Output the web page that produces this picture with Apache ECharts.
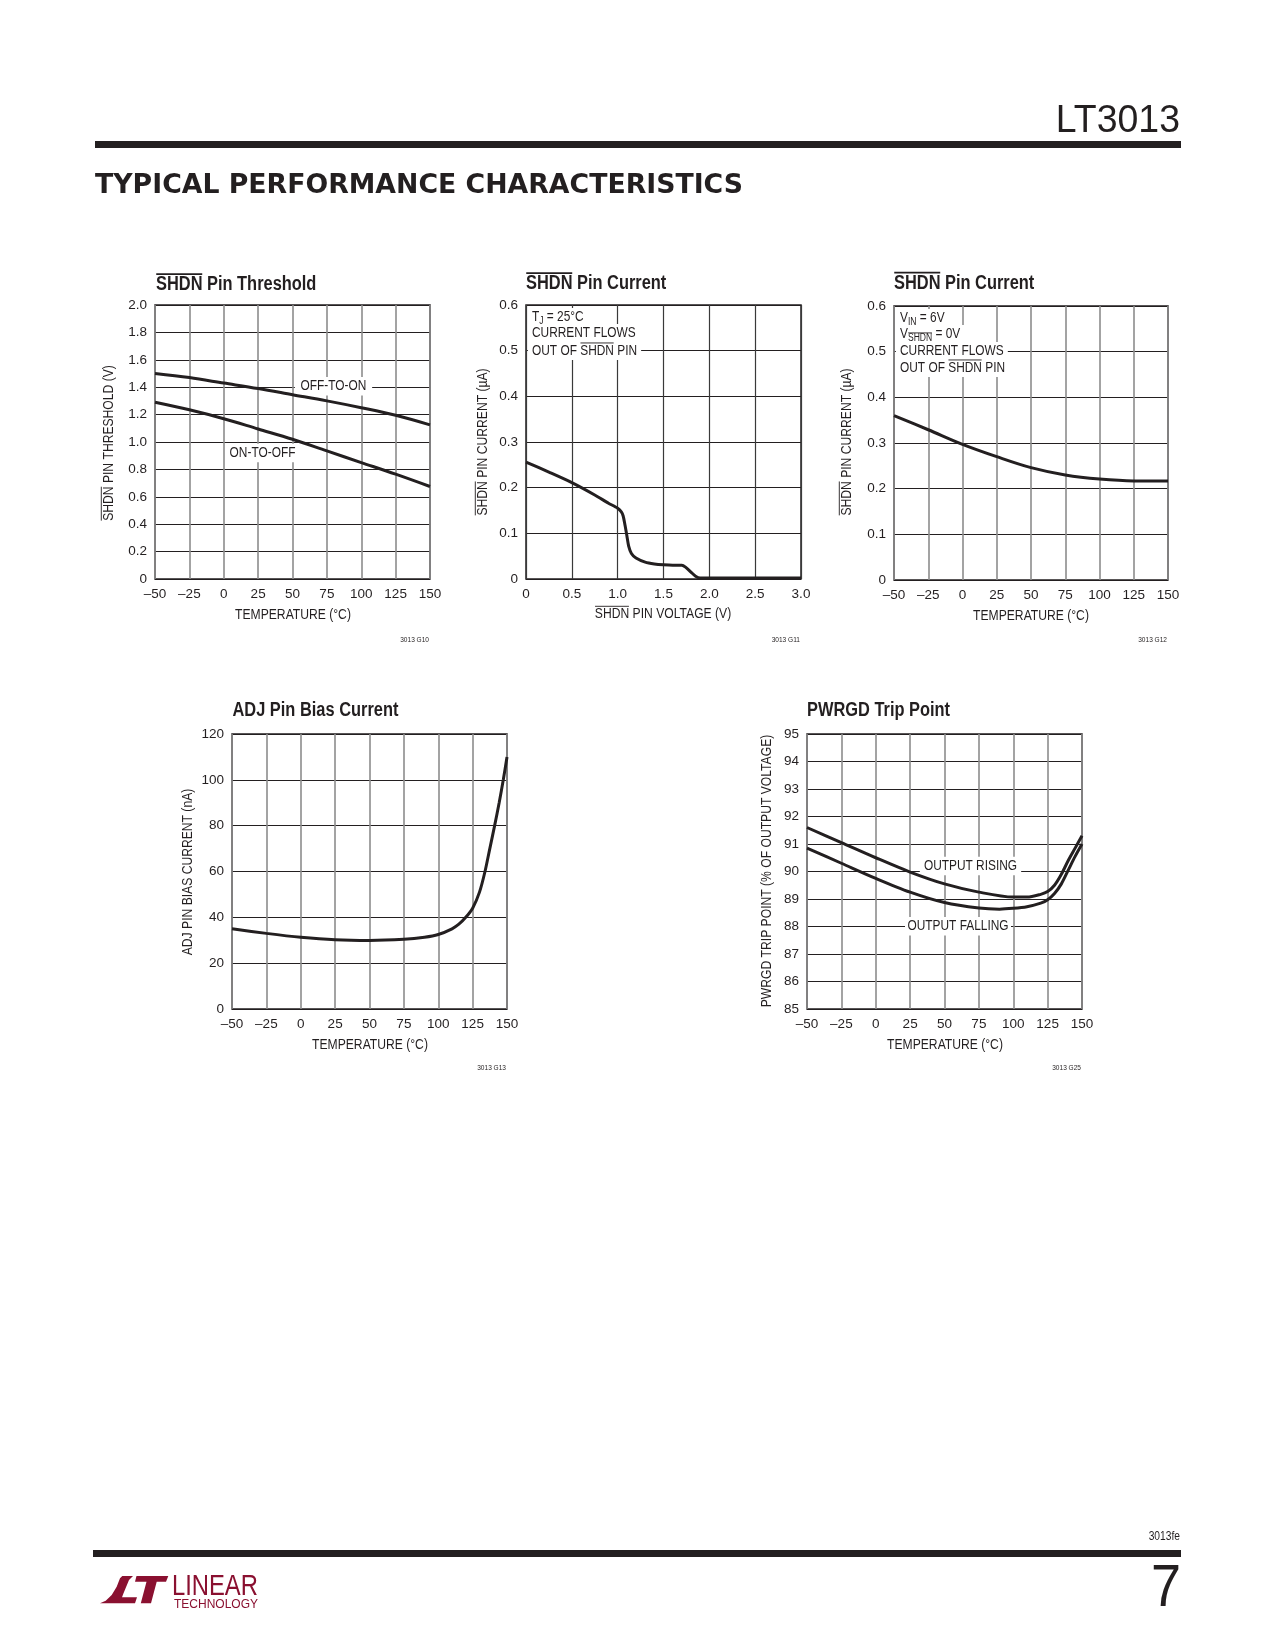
<!DOCTYPE html>
<html><head><meta charset="utf-8">
<script src="https://cdn.jsdelivr.net/npm/echarts@6/dist/echarts.min.js"></script>
<style>html,body{margin:0;padding:0;background:#fff}#c{width:1275px;height:1650px}</style>
</head><body><div id="c"></div>
<script>
// ---------- DATA ----------
// Chart 1: SHDN Pin Threshold vs temperature
const thrTemp      = [-50, -25, 0, 25, 50, 75, 100, 125, 150];
const thrOffToOn   = [1.50, 1.47, 1.43, 1.39, 1.345, 1.30, 1.25, 1.195, 1.125];
const thrOnToOff   = [1.29, 1.235, 1.17, 1.095, 1.02, 0.935, 0.85, 0.765, 0.675];
// Chart 2: SHDN Pin Current vs SHDN pin voltage
const shdnVolt     = [0, 0.25, 0.5, 0.75, 0.9, 1.0, 1.04, 1.06, 1.08, 1.1, 1.12, 1.15, 1.2, 1.3, 1.4, 1.5, 1.6, 1.7, 1.74, 1.8, 1.85, 1.9, 2.0, 2.5, 3.0];
const shdnCurV     = [0.256, 0.234, 0.211, 0.184, 0.166, 0.155, 0.147, 0.138, 0.118, 0.095, 0.072, 0.056, 0.046, 0.037, 0.033, 0.031, 0.030, 0.030, 0.026, 0.015, 0.006, 0.002, 0.002, 0.002, 0.002];
// Chart 3: SHDN Pin Current vs temperature
const shdnTemp     = [-50, -25, 0, 25, 50, 75, 100, 125, 150];
const shdnCurT     = [0.36, 0.329, 0.297, 0.27, 0.246, 0.23, 0.221, 0.217, 0.217];
// Chart 4: ADJ Pin Bias Current vs temperature
const adjTemp      = [-50, -25, 0, 25, 50, 75, 90, 100, 110, 115, 120, 125, 130, 134, 137.5, 141, 144.3, 147.3, 150];
const adjBias      = [35, 33, 31.3, 30.2, 29.9, 30.4, 31.3, 32.5, 35, 37, 40, 44, 51, 60, 70, 80, 90, 100, 110];
// Chart 5: PWRGD Trip Point vs temperature
const pgRiseTemp   = [-50, -25, 0, 25, 50, 75, 100, 110, 120, 125, 130, 135, 140, 145, 150];
const pgRising     = [91.6, 91.05, 90.5, 89.98, 89.55, 89.25, 89.07, 89.07, 89.17, 89.27, 89.5, 89.9, 90.4, 90.85, 91.3];
const pgFallTemp   = [-50, -25, 0, 25, 50, 75, 90, 100, 110, 120, 125, 130, 135, 140, 145, 150];
const pgFalling    = [90.85, 90.3, 89.75, 89.25, 88.87, 88.67, 88.63, 88.66, 88.72, 88.85, 88.97, 89.2, 89.55, 90.05, 90.55, 91.0];

// ---------- STYLE ----------
const FONT = '"Liberation Sans", Arial, sans-serif';
const NARROW = 0.82;          // horizontal squeeze to mimic a narrow face
const INK = '#231f20';
const GRAY = '#8c8c8c';
const LOGO = '#8a1030';
const ZG = 2;                 // graphics above grid lines, below curves
const cv = document.createElement('canvas').getContext('2d');
function tw(t, size, bold, fam) { cv.font = (bold ? 'bold ' : '') + size + 'px ' + (fam || FONT); return cv.measureText(t).width; }
function pairs(xs, ys) { return xs.map((x, i) => [x, ys[i]]); }

// text with optional overline / subscript parts
function mtext(parts, o) {
  const size = o.size, bold = !!o.bold, subSize = size * 0.72;
  let x = 0;
  const segs = parts.map(p => typeof p === 'string' ? { t: p } : Object.assign({}, p));
  segs.forEach(s => { s.sz = s.sub ? subSize : size; s.w = tw(s.t, s.sz, bold); s.x = x; x += s.w; });
  const total = x;
  const off = o.align === 'center' ? -total / 2 : (o.align === 'right' ? -total : 0);
  const ch = [];
  if (o.bg) {
    const p = o.pad == null ? 4 : o.pad;
    ch.push({ type: 'rect', z: ZG, shape: { x: off - p, y: -size * 0.62, width: total + 2 * p, height: size * 1.28 }, style: { fill: '#fff' } });
  }
  segs.forEach(s => {
    const dy = s.sub ? size * 0.3 : 0;
    ch.push({ type: 'text', z: ZG, x: off + s.x, y: dy, style: { text: s.t, fill: o.color || INK, fontSize: s.sz, fontFamily: FONT, fontWeight: bold ? 'bold' : 'normal', textAlign: 'left', textVerticalAlign: 'middle', align: 'left', verticalAlign: 'middle' } });
    if (s.ov) {
      const oy = dy - s.sz * 0.52;
      ch.push({ type: 'line', z: ZG, shape: { x1: off + s.x + 0.3, y1: oy, x2: off + s.x + s.w - 0.3, y2: oy }, style: { stroke: o.color || INK, lineWidth: bold ? 1.6 : 1 } });
    }
  });
  return { type: 'group', x: o.x, y: o.y, rotation: o.rot || 0, scaleX: o.sx || NARROW, scaleY: 1, z: ZG, children: ch };
}
function plain(text, o) {
  return { type: 'text', z: ZG, x: o.x, y: o.y, scaleX: o.sx || NARROW, scaleY: 1,
    style: { text: text, fill: o.color || INK, fontSize: o.size, fontFamily: o.fam || FONT, fontWeight: o.bold ? 'bold' : 'normal', textAlign: o.align || 'left', textVerticalAlign: 'middle', align: o.align || 'left', verticalAlign: 'middle' } };
}

// ---------- LAYOUT ----------
const grids = [
  { left: 155, top: 305, width: 275, height: 274 },
  { left: 526, top: 305, width: 275, height: 274 },
  { left: 894, top: 306, width: 274, height: 274 },
  { left: 232, top: 734, width: 275, height: 275 },
  { left: 807, top: 734, width: 275, height: 275 }
].map(g => Object.assign(g, { show: true, borderColor: INK, borderWidth: 1.5, backgroundColor: 'transparent' }));

const lblStyle = { fontFamily: FONT, fontSize: 13.5, color: INK };
const dash = v => (v < 0 ? '\u2013' + Math.abs(v) : String(v));
function xAxis(gi, min, max, interval, fmt, vcol, vw) {
  return { type: 'value', gridIndex: gi, min, max, interval,
    axisLine: { show: false }, axisTick: { show: false },
    axisLabel: Object.assign({ margin: 8, formatter: fmt }, lblStyle),
    splitLine: { show: true, lineStyle: { color: vcol || GRAY, width: vw || 1.6 } } };
}
function yAxis(gi, min, max, interval, fmt) {
  return { type: 'value', gridIndex: gi, min, max, interval,
    axisLine: { show: false }, axisTick: { show: false },
    axisLabel: Object.assign({ margin: 8, formatter: fmt }, lblStyle),
    splitLine: { show: true, lineStyle: { color: INK, width: 1 } } };
}
const f1 = v => (v === 0 ? '0' : v.toFixed(1));
const fInt = v => String(v);

function lineSeries(gi, data, smooth) {
  return { type: 'line', xAxisIndex: gi, yAxisIndex: gi, data: data, showSymbol: false, symbol: 'none',
    smooth: smooth == null ? 0.35 : smooth, lineStyle: { color: INK, width: 3 }, z: 3, silent: true, animation: false };
}

const S = 14.8; // axis-name font size
const graphics = [
  // header
  plain('LT3013', { x: 1180, y: 121, size: 39, align: 'right', sx: 0.96 }),
  { type: 'rect', z: ZG, shape: { x: 95, y: 141, width: 1086, height: 7 }, style: { fill: INK } },
  plain('TYPICAL PERFORMANCE CHARACTERISTICS', { x: 95, y: 186, size: 27, bold: true, fam: '"DejaVu Sans", sans-serif', sx: 0.99 }),
  // footer
  plain('3013fe', { x: 1180, y: 1537, size: 12.5, align: 'right' }),
  { type: 'rect', z: ZG, shape: { x: 93, y: 1550, width: 1088, height: 7 }, style: { fill: INK } },
  plain('7', { x: 1181, y: 1589, size: 60, align: 'right', sx: 0.9 }),
  { type: 'polygon', z: ZG, shape: { points: [[100,1603.3],[105.7,1600.7],[111.7,1595],[116.7,1586.7],[120,1578.3],[122.3,1576],[133,1576],[129,1580],[123.5,1593.3],[122,1597.3],[137,1597.3],[135,1603.3]] }, style: { fill: LOGO } },
  { type: 'polygon', z: ZG, shape: { points: [[136.5,1576],[168.3,1576],[166,1581.7],[156.7,1581.7],[151,1603.3],[140.8,1603.3],[146.5,1581.7],[135,1581.7]] }, style: { fill: LOGO } },
  plain('LINEAR', { x: 172, y: 1587, size: 29, color: LOGO }),
  plain('TECHNOLOGY', { x: 174, y: 1605, size: 12, color: LOGO, sx: 1 }),

  // chart 1
  mtext([{ t: 'SHDN', ov: true }, ' Pin Threshold'], { x: 156, y: 284.5, size: 20, bold: true }),
  mtext([{ t: 'SHDN', ov: true }, ' PIN THRESHOLD (V)'], { x: 109, y: 443, size: S, align: 'center', rot: Math.PI / 2 }),
  mtext(['TEMPERATURE (°C)'], { x: 293, y: 615, size: S, align: 'center' }),
  mtext(['OFF-TO-ON'], { x: 333.5, y: 386, size: 14.5, align: 'center', bg: true, pad: 7 }),
  mtext(['ON-TO-OFF'], { x: 262.5, y: 452.7, size: 14.5, align: 'center', bg: true, pad: 3 }),
  plain('3013 G10', { x: 429, y: 640, size: 8 , align: 'right' }),

  // chart 2
  mtext([{ t: 'SHDN', ov: true }, ' Pin Current'], { x: 526, y: 283.5, size: 20, bold: true }),
  mtext([{ t: 'SHDN', ov: true }, ' PIN CURRENT (\u00b5A)'], { x: 483, y: 442, size: S, align: 'center', rot: Math.PI / 2 }),
  mtext([{ t: 'SHDN', ov: true }, ' PIN VOLTAGE (V)'], { x: 663, y: 614, size: S, align: 'center' }),
  mtext(['T', { t: 'J', sub: true }, ' = 25°C'], { x: 532, y: 317, size: 14.5, bg: true, pad: 5 }),
  mtext(['CURRENT FLOWS'], { x: 532, y: 333, size: 14.5, bg: true, pad: 5 }),
  mtext(['OUT OF ', { t: 'SHDN', ov: true }, ' PIN'], { x: 532, y: 350.5, size: 14.5, bg: true, pad: 5 }),
  plain('3013 G11', { x: 800, y: 640, size: 8, align: 'right' }),

  // chart 3
  mtext([{ t: 'SHDN', ov: true }, ' Pin Current'], { x: 894, y: 283, size: 20, bold: true }),
  mtext([{ t: 'SHDN', ov: true }, ' PIN CURRENT (\u00b5A)'], { x: 847, y: 442, size: S, align: 'center', rot: Math.PI / 2 }),
  mtext(['TEMPERATURE (°C)'], { x: 1031, y: 616, size: S, align: 'center' }),
  mtext(['V', { t: 'IN', sub: true }, ' = 6V'], { x: 900, y: 318, size: 14.5, bg: true, pad: 5 }),
  mtext(['V', { t: 'SHDN', sub: true, ov: true }, ' = 0V'], { x: 900, y: 334, size: 14.5, bg: true, pad: 5 }),
  mtext(['CURRENT FLOWS'], { x: 900, y: 351, size: 14.5, bg: true, pad: 5 }),
  mtext(['OUT OF ', { t: 'SHDN', ov: true }, ' PIN'], { x: 900, y: 367.5, size: 14.5, bg: true, pad: 5 }),
  plain('3013 G12', { x: 1167, y: 640, size: 8, align: 'right' }),

  // chart 4
  mtext(['ADJ Pin Bias Current'], { x: 232.5, y: 710, size: 20, bold: true }),
  mtext(['ADJ PIN BIAS CURRENT (nA)'], { x: 188, y: 872, size: S, align: 'center', rot: Math.PI / 2 }),
  mtext(['TEMPERATURE (°C)'], { x: 370, y: 1045, size: S, align: 'center' }),
  plain('3013 G13', { x: 506, y: 1068, size: 8, align: 'right' }),

  // chart 5
  mtext(['PWRGD Trip Point'], { x: 807, y: 710, size: 20, bold: true }),
  mtext(['PWRGD TRIP POINT (% OF OUTPUT VOLTAGE)'], { x: 767, y: 871, size: S, align: 'center', rot: Math.PI / 2 }),
  mtext(['TEMPERATURE (°C)'], { x: 945, y: 1045, size: S, align: 'center' }),
  mtext(['OUTPUT RISING'], { x: 970.5, y: 865.7, size: 14.5, align: 'center', bg: true, pad: 5 }),
  mtext(['OUTPUT FALLING'], { x: 958, y: 926, size: 14.5, align: 'center', bg: true, pad: 3 }),
  plain('3013 G25', { x: 1081, y: 1068, size: 8, align: 'right' })
];

const option = {
  animation: false,
  backgroundColor: '#fff',
  grid: grids,
  xAxis: [
    xAxis(0, -50, 150, 25, dash),
    xAxis(1, 0, 3, 0.5, f1, '#3a3a3a', 1.2),
    xAxis(2, -50, 150, 25, dash),
    xAxis(3, -50, 150, 25, dash),
    xAxis(4, -50, 150, 25, dash)
  ],
  yAxis: [
    yAxis(0, 0, 2, 0.2, f1),
    yAxis(1, 0, 0.6, 0.1, f1),
    yAxis(2, 0, 0.6, 0.1, f1),
    yAxis(3, 0, 120, 20, fInt),
    yAxis(4, 85, 95, 1, fInt)
  ],
  series: [
    lineSeries(0, pairs(thrTemp, thrOffToOn)),
    lineSeries(0, pairs(thrTemp, thrOnToOff)),
    lineSeries(1, pairs(shdnVolt, shdnCurV), 0.25),
    lineSeries(2, pairs(shdnTemp, shdnCurT)),
    lineSeries(3, pairs(adjTemp, adjBias), 0.3),
    lineSeries(4, pairs(pgRiseTemp, pgRising), 0.3),
    lineSeries(4, pairs(pgFallTemp, pgFalling), 0.3)
  ],
  graphic: { elements: graphics }
};
const chart = echarts.init(document.getElementById('c'), null, { renderer: 'canvas' });
chart.setOption(option);
</script>
</body></html>
